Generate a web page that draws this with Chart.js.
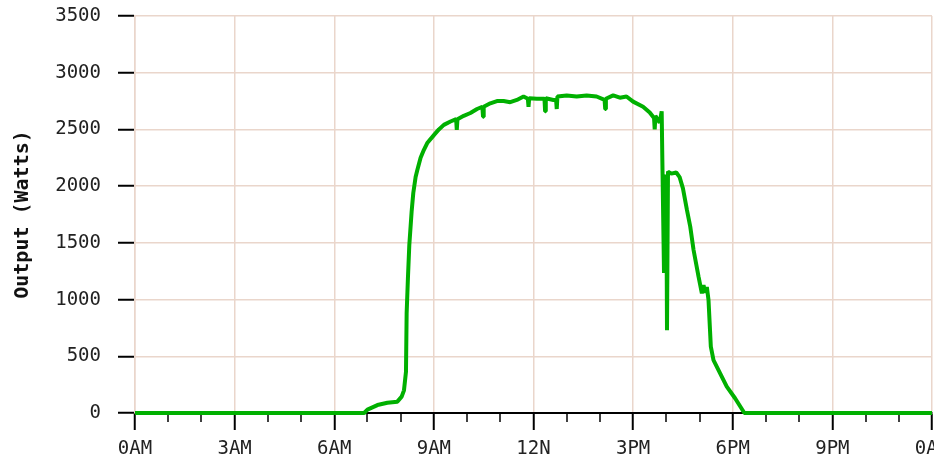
<!DOCTYPE html>
<html><head><meta charset="utf-8">
<script src="https://cdn.jsdelivr.net/npm/chart.js@4"></script>
<style>html,body{margin:0;padding:0;background:#fff;overflow:hidden}</style>
</head><body>
<canvas id="c" width="934" height="462"></canvas>
<script>
// Time of day in hours (0 = midnight)
const hours = [0, 6.9, 7.0, 7.3, 7.6, 7.9, 8.03, 8.1, 8.16, 8.18, 8.22, 8.26, 8.33, 8.38, 8.45, 8.5, 8.6, 8.7, 8.8, 9.0,
  9.15, 9.3, 9.5, 9.67, 9.69, 9.71, 9.9, 10.1, 10.3, 10.46, 10.48, 10.5, 10.7, 10.9, 11.1, 11.3, 11.5, 11.7, 11.83, 11.85,
  11.87, 12.1, 12.33, 12.35, 12.37, 12.6, 12.68, 12.7, 12.72, 13.0, 13.3, 13.6, 13.9, 14.14, 14.16, 14.18, 14.4, 14.6, 14.8, 15.0, 15.3,
  15.5, 15.63, 15.65, 15.67, 15.8, 15.86, 15.88, 15.93, 15.96, 16.0, 16.02, 16.05, 16.15, 16.3, 16.4, 16.5, 16.62, 16.72, 16.82, 16.97,
  17.07, 17.12, 17.17, 17.22, 17.27, 17.34, 17.42, 17.62, 17.82, 18.07, 18.35, 24];
// Output in watts
const watts = [0, 0, 30, 70, 90, 100, 144, 200, 364, 880, 1200, 1480, 1775, 1940, 2080, 2140, 2250, 2320, 2380, 2450,
  2500, 2540, 2570, 2590, 2495, 2590, 2620, 2645, 2680, 2700, 2612, 2700, 2730, 2750, 2750, 2740, 2760, 2790, 2770, 2700,
  2775, 2770, 2770, 2660, 2775, 2760, 2760, 2680, 2790, 2800, 2790, 2800, 2790, 2760, 2680, 2770, 2800, 2780, 2790, 2745, 2700,
  2650, 2600, 2500, 2620, 2560, 2660, 2230, 1234, 2100, 2050, 730, 2128, 2110, 2120, 2080, 1980, 1790, 1643, 1437, 1202,
  1055, 1128, 1060, 1110, 996, 585, 467, 350, 232, 130, 0, 0];
const xTickLabels = ['0AM', '3AM', '6AM', '9AM', '12N', '3PM', '6PM', '9PM', '0AM'];
const yTickValues = [0, 500, 1000, 1500, 2000, 2500, 3000, 3500];
const yTitle = 'Output (Watts)';

const GRID = '#ead6cb';
const TXT = '#222';
const FONT = 'DejaVu Sans Mono';

const minorTicks = {
  id: 'minorTicks',
  beforeDatasetsDraw(chart) {
    const s = chart.scales.x;
    const ctx = chart.ctx;
    ctx.save();
    ctx.strokeStyle = '#000';
    ctx.lineWidth = 1.5;
    for (let h = 0; h <= 24; h++) {
      if (h % 3 === 0) continue;
      const px = Math.round(s.getPixelForValue(h));
      ctx.beginPath();
      ctx.moveTo(px, s.top);
      ctx.lineTo(px, s.top + 9);
      ctx.stroke();
    }
    ctx.restore();
  }
};

new Chart(document.getElementById('c'), {
  type: 'line',
  data: {
    datasets: [{
      data: hours.map((h, i) => ({x: h, y: watts[i]})),
      borderColor: '#00b000',
      borderWidth: 4,
      borderJoinStyle: 'bevel',
      pointRadius: 0,
      tension: 0,
      fill: false,
      clip: false
    }]
  },
  options: {
    responsive: false,
    animation: false,
    devicePixelRatio: 1,
    layout: {padding: {top: 16, right: 2, left: 0, bottom: 0}},
    plugins: {legend: {display: false}, tooltip: {enabled: false}},
    scales: {
      x: {
        type: 'linear', min: 0, max: 24,
        afterBuildTicks: s => { s.ticks = xTickLabels.map((l, i) => ({value: i * 3})); },
        ticks: {
          autoSkip: false, maxRotation: 0, minRotation: 0,
          callback: v => xTickLabels[Math.round(v / 3)],
          font: {family: FONT, size: 19}, color: TXT, padding: 8
        },
        grid: {color: GRID, lineWidth: 1.5, tickColor: '#000', tickLength: 17, tickWidth: 2},
        border: {color: '#000', width: 2},
        afterFit: s => { s.height = 49; s.paddingLeft = 0; s.paddingRight = 0; }
      },
      y: {
        min: 0, max: 3500,
        afterBuildTicks: s => { s.ticks = yTickValues.map(v => ({value: v})); },
        ticks: {font: {family: FONT, size: 19}, color: TXT, padding: 17, callback: v => String(v)},
        grid: {color: GRID, lineWidth: 1.5, tickColor: '#000', tickLength: 17, tickWidth: 2},
        border: {color: GRID, width: 1.5},
        title: {display: true, text: yTitle, font: {family: FONT, size: 20, weight: 'bold'}, color: '#111', padding: {top: 11, bottom: 0}},
        afterFit: s => { s.width = 135; s.paddingTop = 0; s.paddingBottom = 0; }
      }
    }
  },
  plugins: [minorTicks]
});
</script>
</body></html>
